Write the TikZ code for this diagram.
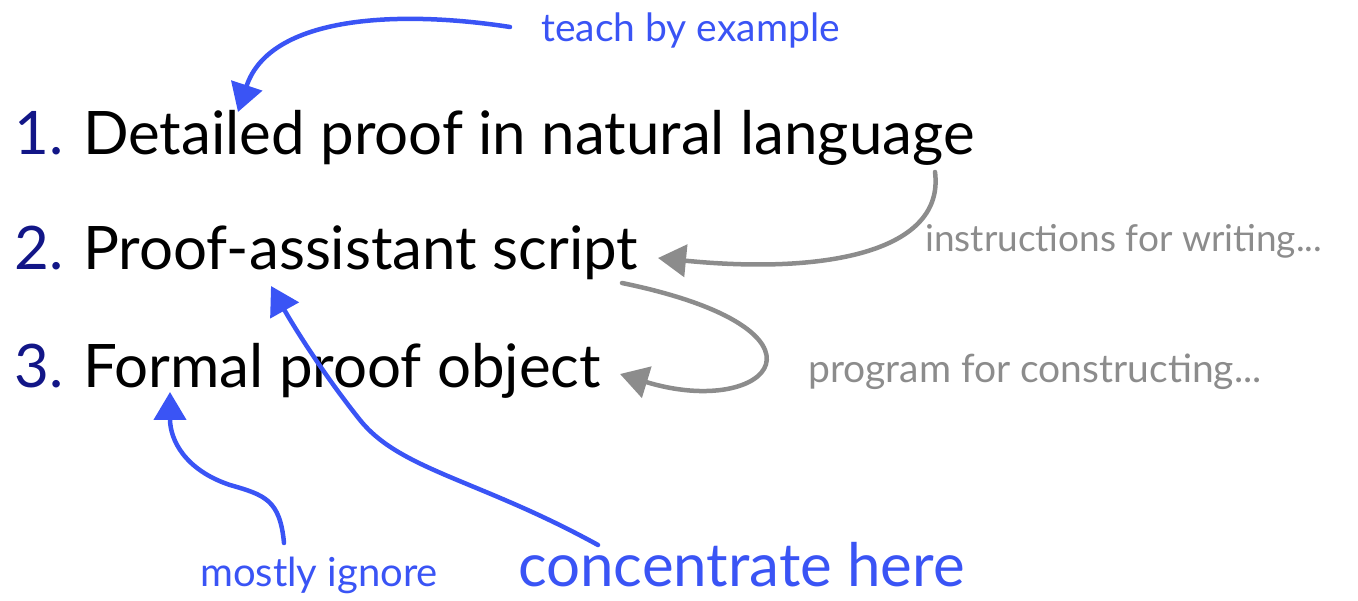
\documentclass[tikz,border=0pt]{standalone}
\usepackage{fontspec}
\setmainfont{Lato}
\usetikzlibrary{arrows.meta,positioning}
\definecolor{stepnavy}{RGB}{18,22,135}
\definecolor{noteblue}{RGB}{58,84,245}
\definecolor{notegray}{RGB}{140,140,140}

\begin{document}
\begin{tikzpicture}[x=1pt,y=-1pt,line cap=round,line join=round,
  level/.style={anchor=base west,inner sep=0pt,font=\fontsize{60}{60}\selectfont},
  num/.style={anchor=base east,inner sep=0pt,text=stepnavy,font=\fontsize{60}{60}\selectfont},
  note/.style={anchor=base west,inner sep=0pt,font=\fontsize{39}{39}\selectfont},
  sketch/.style={line width=4.5pt,-{Triangle[length=28pt,width=32pt]}}]
 \useasboundingbox (0,0) rectangle (1358,601);
 % the three levels
 \node[level] (detail) at (83,155) {Detailed proof in natural language};
 \node[level] (script) at (83,270) {Proof-assistant script};
 \node[level] (object) at (83,388) {Formal proof object};
 \node[num] (n1) at (64,155) {1.};
 \node[num] (n2) at (64,270) {2.};
 \node[num] (n3) at (64,388) {3.};
 % side notes
 \node[note,text=noteblue] (teach) at (541,42) {teach by example};
 \node[note,text=notegray,font=\fontsize{37}{37}\selectfont] (instr) at (925,252) {instructions for writing...};
 \node[note,text=notegray] (prog) at (808,383) {program for constructing...};
 \node[note,text=noteblue,font=\fontsize{40}{40}\selectfont] (ignore) at (200,586) {mostly ignore};
 \node[note,text=noteblue,font=\fontsize{60}{60}\selectfont] (here) at (518,586) {concentrate here};
 % arrow ends
 \coordinate (teachfrom) at (510,27);
 \coordinate (teachto) at (238,112);
 \coordinate (instrfrom) at (935,172);
 \coordinate (instrto) at (658,258);
 \coordinate (progfrom) at (622,283);
 \coordinate (progto) at (620,374);
 \coordinate (herefrom) at (598,545);
 \coordinate (hereto) at (271,286);
 \coordinate (ignorefrom) at (284,543);
 \coordinate (ignoreto) at (170,392);
 % arrows
 \draw[sketch,noteblue] (teachfrom) .. controls (400,10) and (270,15) .. (teachto);
 \draw[sketch,notegray] (instrfrom) .. controls (945,250) and (830,275) .. (instrto);
 \draw[sketch,notegray] (progfrom) .. controls (850,330) and (770,420) .. (progto);
 \draw[sketch,noteblue] (herefrom) .. controls (480,480) and (400,470) .. (360,420)
   .. controls (320,370) and (290,320) .. (hereto);
 \draw[sketch,noteblue] (ignorefrom) .. controls (280,500) and (265,495) .. (230,485)
   .. controls (185,470) and (170,440) .. (ignoreto);
\end{tikzpicture}
\end{document}
